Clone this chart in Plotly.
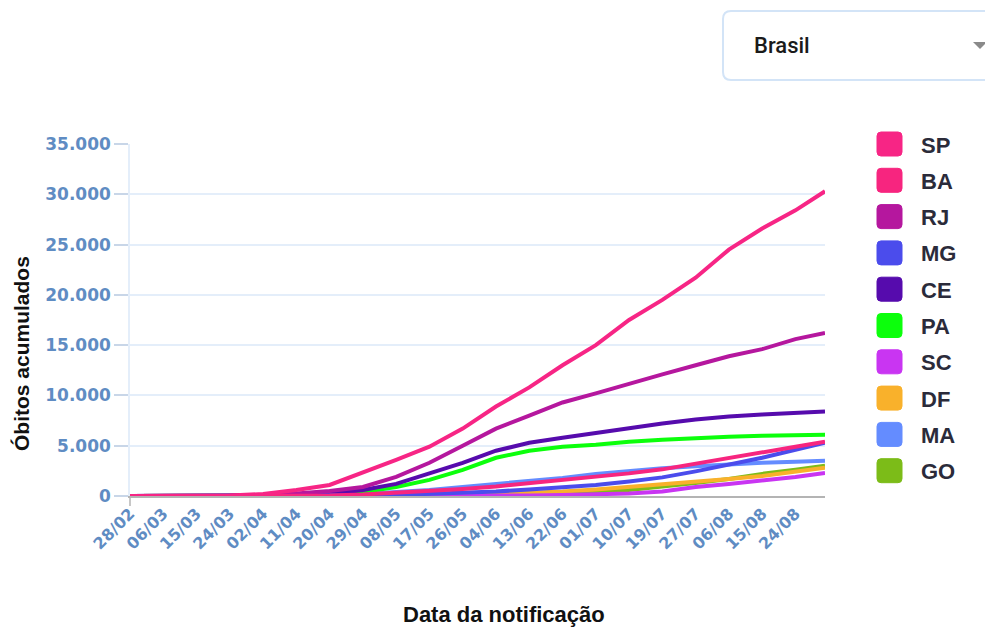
import plotly.graph_objects as go

# ---------------- data ----------------
tick_labels = ["28/02", "06/03", "15/03", "24/03", "02/04", "11/04", "20/04", "29/04",
               "08/05", "17/05", "26/05", "04/06", "13/06", "22/06", "01/07", "10/07",
               "19/07", "27/07", "06/08", "15/08", "24/08"]
tick_step = 9            # one tick label every 9 daily categories
n_days = 189             # number of daily categories shown

sample_idx = [0, 9, 18, 27, 36, 45, 54, 63, 72, 81, 90, 99, 108, 117, 126, 135,
              144, 153, 162, 171, 180, 188]

states = ["SP", "BA", "RJ", "MG", "CE", "PA", "SC", "DF", "MA", "GO"]

SP = [0, 0, 10, 50, 200, 600, 1100, 2300, 3600, 4900, 6700, 8900, 10800, 13000, 15000,
      17500, 19500, 21700, 24500, 26600, 28400, 30300]
BA = [0, 0, 0, 0, 5, 20, 50, 150, 300, 500, 700, 950, 1250, 1550, 1900, 2250, 2650,
      3200, 3700, 4300, 4900, 5400]
RJ = [0, 0, 0, 20, 100, 250, 500, 900, 1900, 3300, 5000, 6700, 8000, 9300, 10200,
      11200, 12100, 13000, 13900, 14600, 15600, 16200]
MG = [0, 0, 0, 0, 5, 20, 50, 80, 100, 200, 300, 450, 650, 850, 1100, 1450, 1850, 2450,
      3100, 3800, 4600, 5300]
CE = [0, 0, 0, 0, 10, 50, 200, 600, 1200, 2200, 3300, 4500, 5300, 5800, 6300, 6800,
      7200, 7600, 7900, 8100, 8300, 8400]
PA = [0, 0, 0, 0, 5, 20, 100, 400, 900, 1600, 2600, 3800, 4500, 4900, 5100, 5400,
      5600, 5800, 5900, 6000, 6050, 6100]
SC = [0, 0, 0, 0, 5, 10, 15, 20, 25, 30, 35, 40, 60, 100, 150, 250, 450, 900, 1200,
      1500, 1900, 2300]
DF = [0, 0, 0, 0, 10, 20, 30, 40, 45, 50, 100, 200, 300, 450, 650, 900, 1150, 1400,
      1700, 2000, 2400, 2800]
MA = [0, 0, 0, 0, 5, 20, 80, 200, 400, 600, 900, 1200, 1500, 1800, 2200, 2500, 2750,
      2950, 3150, 3300, 3400, 3500]
GO = [0, 0, 0, 0, 5, 10, 15, 20, 25, 30, 40, 50, 150, 250, 400, 600, 900, 1300, 1700,
      2200, 2600, 3000]

series = {"SP": SP, "BA": BA, "RJ": RJ, "MG": MG, "CE": CE,
          "PA": PA, "SC": SC, "DF": DF, "MA": MA, "GO": GO}

colors = {"SP": "#f72585", "BA": "#f7257f", "RJ": "#b5179e", "MG": "#4b4cec",
          "CE": "#560bad", "PA": "#0cff0c", "SC": "#c935f2", "DF": "#f9b12b",
          "MA": "#648cff", "GO": "#7cbc18"}

# ---------------- layout geometry (reference pixels) ----------------
OFF = 8                      # page body margin offset
W, H = 993 - OFF, 628 - OFF  # figure size
PL, PR, PT, PB = 130, 825, 144, 496   # plot area edges in reference pixels


def px(x):
    return (x - PL) / (PR - PL)


def py(y):
    return (PB - y) / (PB - PT)


fig = go.Figure()

for s in reversed(states):
    fig.add_trace(go.Scatter(
        x=sample_idx, y=series[s], name=s, mode="lines",
        line=dict(color=colors[s], width=4),
        showlegend=False,
        hovertemplate=s + ": %{y:,.0f}<extra></extra>",
    ))

tick_blue = "#5f8cc3"
tick_font = dict(family="DejaVu Sans", size=17, color=tick_blue, weight=700)

fig.update_layout(
    width=W, height=H,
    margin=dict(l=PL - OFF, r=W - (PR - OFF), t=PT - OFF, b=H - (PB - OFF), pad=0),
    paper_bgcolor="white", plot_bgcolor="white",
    separators=",.",
    showlegend=False,
    font=dict(family="Liberation Sans", color="#222"),
    xaxis=dict(
        range=[0, n_days - 1],
        tickmode="array",
        tickvals=[i * tick_step for i in range(len(tick_labels))],
        ticktext=tick_labels,
        tickangle=-45,
        tickfont=dict(family="DejaVu Sans", size=16, color=tick_blue, weight=700),
        showgrid=False, zeroline=False,
        showline=True, linecolor="#b4b4b4", linewidth=2,
        ticks="",
    ),
    yaxis=dict(
        range=[0, 35000],
        tickmode="array",
        tickvals=[0, 5000, 10000, 15000, 20000, 25000, 30000, 35000],
        tickformat=",.0f",
        tickfont=tick_font,
        showgrid=True, gridcolor="#e4eefa", gridwidth=1.5,
        zeroline=False,
        showline=True, linecolor="#e4eefa", linewidth=1.5,
        ticks="outside", ticklen=14, tickcolor="#c8d6e8", tickwidth=1.5,
    ),
)

shapes = []
annotations = []

# axis titles
annotations.append(dict(
    x=px(504), y=py(614), xref="paper", yref="paper",
    text="Data da notificação", showarrow=False,
    font=dict(family="Liberation Sans", size=22, color="#111", weight=700),
    xanchor="center", yanchor="middle",
))
annotations.append(dict(
    x=px(21), y=py(354), xref="paper", yref="paper",
    text="Óbitos acumulados", showarrow=False, textangle=-90,
    font=dict(family="Liberation Sans", size=21, color="#111", weight=700),
    xanchor="center", yanchor="middle",
))

# small tick at origin
shapes.append(dict(type="line", xref="paper", yref="paper",
                   x0=px(130), x1=px(130), y0=py(496), y1=py(506),
                   line=dict(color="#b4b4b4", width=1.5)))


def rounded_rect(x0, y0, x1, y1, r):
    pts = [
        f"M {px(x0 + r)} {py(y0)}",
        f"L {px(x1 - r)} {py(y0)}",
        f"Q {px(x1)} {py(y0)} {px(x1)} {py(y0 + r)}",
        f"L {px(x1)} {py(y1 - r)}",
        f"Q {px(x1)} {py(y1)} {px(x1 - r)} {py(y1)}",
        f"L {px(x0 + r)} {py(y1)}",
        f"Q {px(x0)} {py(y1)} {px(x0)} {py(y1 - r)}",
        f"L {px(x0)} {py(y0 + r)}",
        f"Q {px(x0)} {py(y0)} {px(x0 + r)} {py(y0)}",
        "Z",
    ]
    return " ".join(pts)


# manual legend: rounded squares + labels
leg_y0 = 144
leg_dy = 36.3
for i, s in enumerate(states):
    cy = leg_y0 + i * leg_dy
    shapes.append(dict(type="path", xref="paper", yref="paper",
                       path=rounded_rect(877, cy - 12, 902, cy + 12, 4),
                       fillcolor=colors[s], line=dict(color=colors[s], width=1)))
    annotations.append(dict(
        x=px(919), y=py(cy + 1), xref="paper", yref="paper",
        text=s, showarrow=False, xanchor="left", yanchor="middle",
        font=dict(family="Liberation Sans", size=22, color="#2b2b3a", weight=700),
    ))

# dropdown box "Brasil"
shapes.append(dict(type="path", xref="paper", yref="paper",
                   path=rounded_rect(723, 11, 1010, 80, 8),
                   fillcolor="white", line=dict(color="#d3e4f7", width=2)))
annotations.append(dict(
    x=px(752), y=py(45), xref="paper", yref="paper",
    text="Brasil", showarrow=False, xanchor="left", yanchor="middle",
    font=dict(family="Roboto", size=22, color="#1a1a1a", weight=500),
))
shapes.append(dict(type="path", xref="paper", yref="paper",
                   path=f"M {px(973)} {py(42)} L {px(987)} {py(42)} L {px(980)} {py(49)} Z",
                   fillcolor="#8a8a8a", line=dict(width=0)))

fig.update_layout(shapes=shapes, annotations=annotations)

fig.write_html("out.html")
